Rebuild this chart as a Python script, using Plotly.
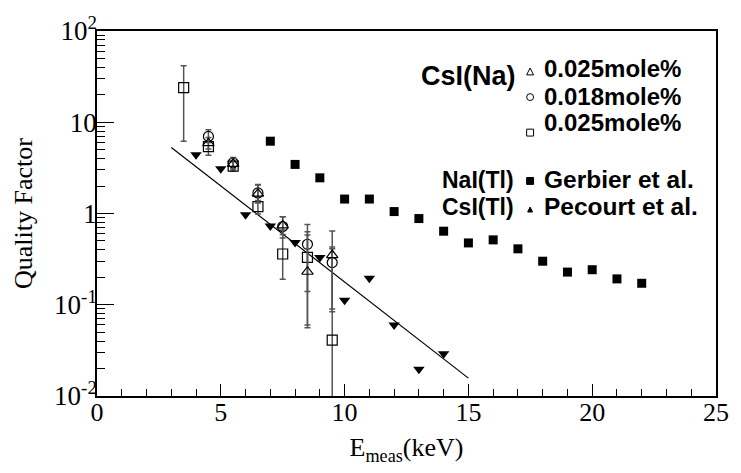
import plotly.graph_objects as go

# ---------------- data ----------------
# CsI(Na) measurements (open symbols, with error bars)
x_tri = [4.5, 5.5, 6.5, 7.5, 8.5, 9.5]
y_tri = [5.9, 3.5, 1.65, 0.74, 0.23, 0.35]
tri_up = [0.9, 0.5, 0.4, 0.18, 0.35, 0.08]
tri_dn = [0.8, 0.45, 0.35, 0.15, 0.174, 0.266]

x_cir = [4.5, 5.5, 6.5, 7.5, 8.5, 9.5]
y_cir = [7.0, 3.6, 1.68, 0.72, 0.46, 0.29]
cir_up = [1.3, 0.5, 0.4, 0.2, 0.3, 0.12]
cir_dn = [1.0, 0.45, 0.35, 0.18, 0.32, 0.2]

x_sq = [3.5, 4.5, 5.5, 6.5, 7.5, 8.5, 9.5]
y_sq = [24.0, 5.4, 3.3, 1.19, 0.36, 0.33, 0.041]
sq_up = [17.6, 0.7, 0.4, 0.2, 0.3, 0.3, 0.6]
sq_dn = [17.8, 1.05, 0.4, 0.2, 0.17, 0.27, 0.040]

# NaI(Tl), Gerbier et al.
x_ger = [7, 8, 9, 10, 11, 12, 13, 14, 15, 16, 17, 18, 19, 20, 21, 22]
y_ger = [6.2, 3.45, 2.46, 1.44, 1.44, 1.05, 0.88, 0.64, 0.476, 0.514, 0.41,
         0.30, 0.228, 0.242, 0.192, 0.172]

# CsI(Tl), Pecourt et al.
x_pec = [4, 5, 6, 7, 8, 9, 10, 11, 12, 13, 14]
y_pec = [4.4, 3.1, 0.97, 0.73, 0.48, 0.33, 0.112, 0.195, 0.06, 0.0196, 0.029]

# fitted line
x_fit = [3.0, 15.0]
y_fit = [5.3, 0.0157]

# axis ticks
x_ticks = [0, 5, 10, 15, 20, 25]
y_ticks = [0.01, 0.1, 1, 10, 100]
y_ticktext = ["10<sup>-2</sup>", "10<sup>-1</sup>", "1", "10", "10<sup>2</sup>"]
y_minor = [m * 10 ** e for e in range(-2, 2) for m in range(2, 10)]
x_minor = list(range(0, 26))

ERR = "#555555"
fig = go.Figure()

fig.add_trace(go.Scatter(x=x_fit, y=y_fit, mode="lines",
                         line=dict(color="black", width=1.2), showlegend=False))

def err(up, dn):
    return dict(type="data", array=up, arrayminus=dn, symmetric=False,
                color=ERR, thickness=1.5, width=3)

fig.add_trace(go.Scatter(x=x_sq, y=y_sq, mode="markers",
                         marker=dict(symbol="square-open", size=10, color="black",
                                     line=dict(width=1.2)),
                         error_y=err(sq_up, sq_dn), showlegend=False))
fig.add_trace(go.Scatter(x=x_cir, y=y_cir, mode="markers",
                         marker=dict(symbol="circle-open", size=10, color="black",
                                     line=dict(width=1.2)),
                         error_y=err(cir_up, cir_dn), showlegend=False))
fig.add_trace(go.Scatter(x=x_tri, y=y_tri, mode="markers",
                         marker=dict(symbol="triangle-up-open", size=10, color="black",
                                     line=dict(width=1.2)),
                         error_y=err(tri_up, tri_dn), showlegend=False))
fig.add_trace(go.Scatter(x=x_ger, y=y_ger, mode="markers",
                         marker=dict(symbol="square", size=9, color="black"),
                         showlegend=False))
fig.add_trace(go.Scatter(x=x_pec, y=y_pec, mode="markers",
                         marker=dict(symbol="triangle-down", size=10, color="black"),
                         showlegend=False))

W, H = 741, 473
L, R, T, B = 97, 18, 26, 77
PW, PH = W - L - R, H - T - B

def px(xp):
    return (xp - L) / PW

def py(yp):
    return 1 - (yp - T) / PH

ann = []
def txt(s, x, y, xa="left", size=24):
    ann.append(dict(text="<b>" + s + "</b>", x=px(x), y=py(y), xref="paper",
                    yref="paper", xanchor=xa, yanchor="middle", showarrow=False,
                    font=dict(family="Liberation Sans, Arial", size=size, color="black")))

txt("CsI(Na)", 523, 72, xa="right", size=27)
txt("0.025mole%", 547, 64)
txt("0.018mole%", 547, 92)
txt("0.025mole%", 547, 119)
txt("NaI(Tl)", 521, 177, xa="right", size=23)
txt("Gerbier et al.", 547, 177, size=24.5)
txt("CsI(Tl)", 521, 204, xa="right", size=23)
txt("Pecourt et al.", 547, 204, size=24.5)

# legend symbols drawn as small shapes (paper coordinates)
shapes = []
def tri(cx, cy, s, fill):
    path = "M {} {} L {} {} L {} {} Z".format(px(cx - s / 2), py(cy + s / 2),
                                            px(cx + s / 2), py(cy + s / 2),
                                            px(cx), py(cy - s / 2))
    shapes.append(dict(type="path", path=path, xref="paper", yref="paper",
                       line=dict(color="black", width=1),
                       fillcolor="black" if fill else "rgba(0,0,0,0)"))

def box(cx, cy, s, fill, kind="rect"):
    shapes.append(dict(type=kind, xref="paper", yref="paper",
                       x0=px(cx - s / 2), x1=px(cx + s / 2),
                       y0=py(cy + s / 2), y1=py(cy - s / 2),
                       line=dict(color="black", width=1),
                       fillcolor="black" if fill else "rgba(0,0,0,0)"))

tri(535, 67, 7, False)
box(535, 93, 7, False, "circle")
box(535, 129, 7, False)
box(535, 178, 7, True)
tri(535, 207, 5, True)

fig.update_layout(
    width=W, height=H,
    margin=dict(l=L, r=R, t=T, b=B),
    plot_bgcolor="white", paper_bgcolor="white",
    annotations=ann, shapes=shapes,
    font=dict(family="Liberation Serif, Times New Roman", size=26, color="black"),
    xaxis=dict(range=[0, 25], tickvals=x_ticks, ticks="inside", ticklen=12,
               tickwidth=1, tickcolor="black", showline=True, linecolor="black",
               linewidth=1.5, mirror=True, showgrid=False, zeroline=False,
               tickfont=dict(size=26), ticklabelstandoff=-8,
               minor=dict(tickvals=x_minor, ticks="inside", ticklen=7,
                          tickcolor="black", tickwidth=1, showgrid=False),
               title=dict(text="E<sub>meas</sub>(keV)", font=dict(size=26), standoff=12)),
    yaxis=dict(type="log", range=[-2, 2], tickvals=y_ticks, ticktext=y_ticktext,
               ticks="inside", ticklen=17, tickwidth=1, tickcolor="black",
               showline=True, linecolor="black", linewidth=1.5, mirror=True,
               showgrid=False, zeroline=False, tickfont=dict(size=27),
               ticklabelstandoff=-7,
               minor=dict(tickvals=y_minor, ticks="inside", ticklen=8,
                          tickcolor="black", tickwidth=1, showgrid=False),
               title=dict(text="Quality Factor", font=dict(size=26), standoff=14)),
)

fig.write_html("out.html")
